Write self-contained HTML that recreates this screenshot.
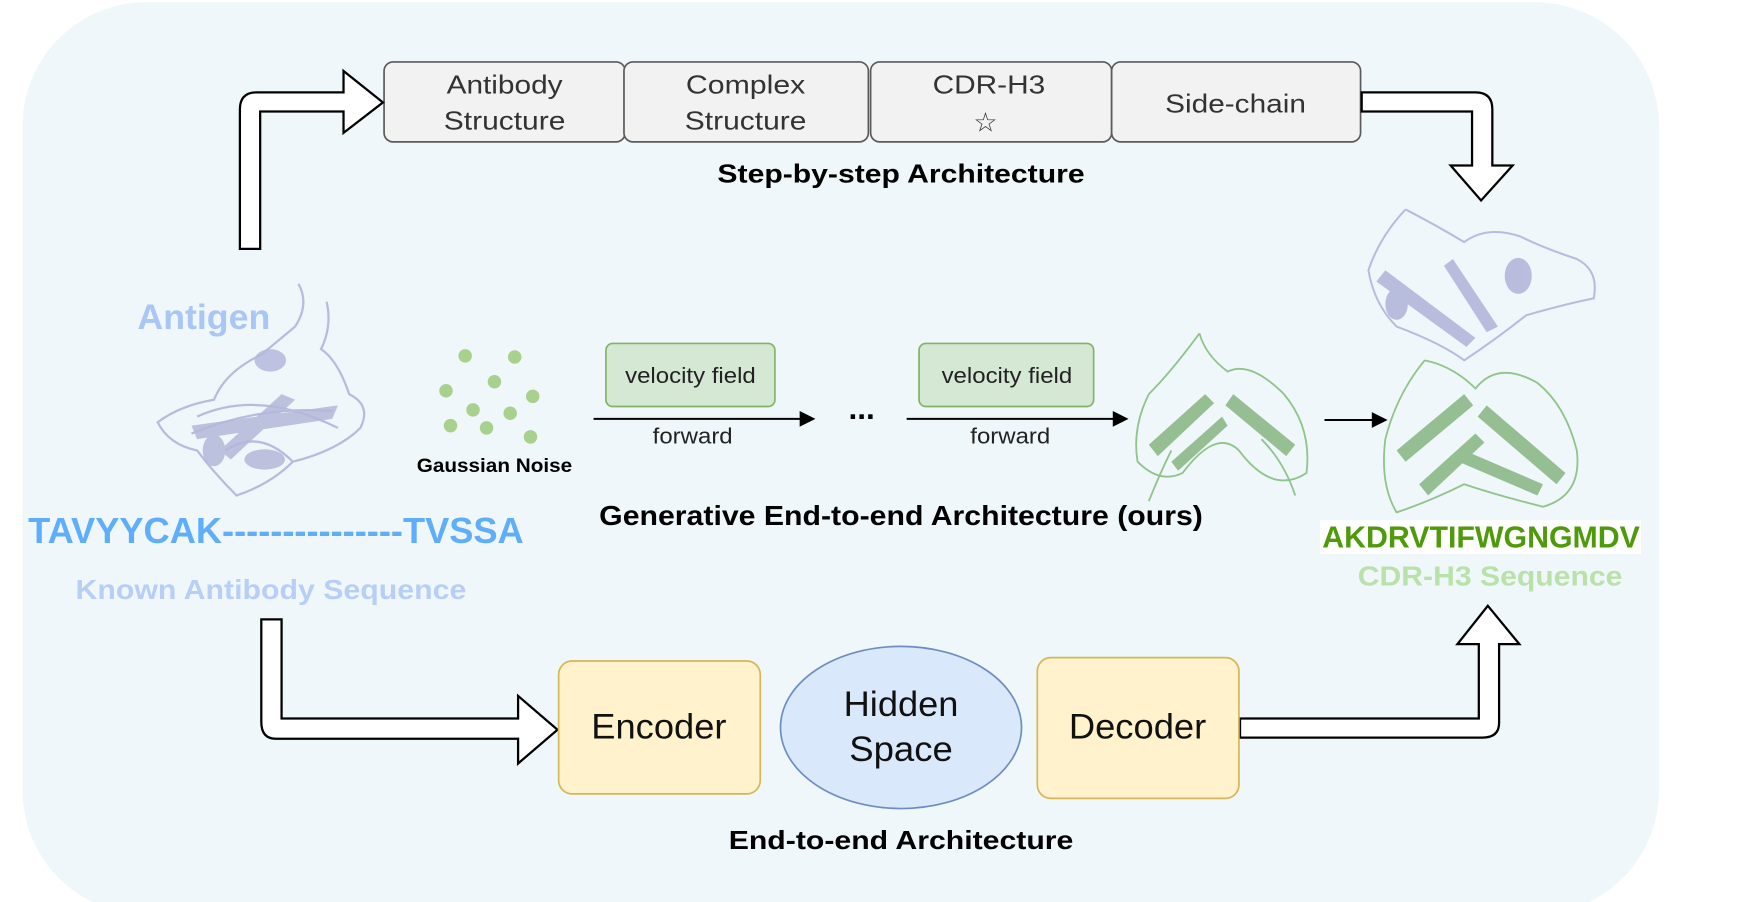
<!DOCTYPE html>
<html><head><meta charset="utf-8"><style>
html,body{margin:0;padding:0;background:#fff;}
svg{display:block;font-family:"Liberation Sans",Arial,sans-serif;}
</style></head><body>
<svg width="1748" height="902" viewBox="0 0 1552 801" preserveAspectRatio="none" xmlns="http://www.w3.org/2000/svg">
<rect x="20" y="2" width="1453" height="810" rx="110" fill="#eff7fa"/>
<g fill="#f2f2f2" stroke="#5a5a5a" stroke-width="1.5">
<rect x="341" y="55" width="214" height="71" rx="8"/>
<rect x="554" y="55" width="217" height="71" rx="8"/>
<rect x="773" y="55" width="214" height="71" rx="8"/>
<rect x="987" y="55" width="221" height="71" rx="8"/>
</g>
<g font-size="23" fill="#333" text-anchor="middle" lengthAdjust="spacingAndGlyphs">
<text x="448" y="83" textLength="103" lengthAdjust="spacingAndGlyphs">Antibody</text><text x="448" y="115" textLength="108" lengthAdjust="spacingAndGlyphs">Structure</text>
<text x="662" y="83" textLength="106" lengthAdjust="spacingAndGlyphs">Complex</text><text x="662" y="115" textLength="108" lengthAdjust="spacingAndGlyphs">Structure</text>
<text x="878" y="83" textLength="100" lengthAdjust="spacingAndGlyphs">CDR-H3</text><text x="875" y="117" font-size="24">☆</text>
<text x="1097" y="100" textLength="125" lengthAdjust="spacingAndGlyphs">Side-chain</text>
</g>
<text x="800" y="162" font-size="23" font-weight="bold" text-anchor="middle" textLength="326" lengthAdjust="spacingAndGlyphs">Step-by-step Architecture</text>
<g fill="#fff" stroke="#000" stroke-width="2" stroke-linejoin="miter">
<path d="M213,221 L213,97 Q213,82 228,82 L305,82 L305,63 L340,91 L305,118 L305,99 L231,99 L231,221 Z"/>
<path d="M1209,82 L1310,82 Q1325,82 1325,97 L1325,147 L1343,147 L1315,178 L1288,147 L1307,147 L1307,99 L1209,99 Z"/>
<path d="M232,550 L250,550 L250,638 L460,638 L460,618 L495,648 L460,678 L460,656 L245,656 Q232,656 232,641 Z"/>
<path d="M1101,638 L1313,638 L1313,572 L1294,572 L1321,538 L1349,572 L1331,572 L1331,642 Q1331,655 1316,655 L1101,655 Z"/>
</g>
<rect x="496" y="587" width="179" height="118" rx="12" fill="#fff2cc" stroke="#d6b656" stroke-width="1.5"/>
<rect x="921" y="584" width="179" height="125" rx="12" fill="#fff2cc" stroke="#d6b656" stroke-width="1.5"/>
<ellipse cx="800" cy="646" rx="107" ry="72" fill="#dae8fc" stroke="#6c8ebf" stroke-width="1.5"/>
<g font-size="31" text-anchor="middle" fill="#111">
<text x="585" y="656" textLength="120" lengthAdjust="spacingAndGlyphs">Encoder</text>
<text x="1010" y="656" textLength="122" lengthAdjust="spacingAndGlyphs">Decoder</text>
<text x="800" y="636" textLength="102" lengthAdjust="spacingAndGlyphs">Hidden</text><text x="800" y="676" textLength="92" lengthAdjust="spacingAndGlyphs">Space</text>
</g>
<text x="800" y="754" font-size="23" font-weight="bold" text-anchor="middle" textLength="306" lengthAdjust="spacingAndGlyphs">End-to-end Architecture</text>
<rect x="538" y="305" width="150" height="56" rx="6" fill="#d5e8d4" stroke="#82b366" stroke-width="1.5"/>
<rect x="816" y="305" width="155" height="56" rx="6" fill="#d5e8d4" stroke="#82b366" stroke-width="1.5"/>
<g font-size="20" fill="#222" text-anchor="middle">
<text x="613" y="340" textLength="116" lengthAdjust="spacingAndGlyphs">velocity field</text><text x="894" y="340" textLength="116" lengthAdjust="spacingAndGlyphs">velocity field</text>
<text x="615" y="394" textLength="71" lengthAdjust="spacingAndGlyphs">forward</text><text x="897" y="394" textLength="71" lengthAdjust="spacingAndGlyphs">forward</text>
</g>
<text x="765" y="372" font-size="28" font-weight="bold" text-anchor="middle">...</text>
<g stroke="#000" stroke-width="1.8" fill="#000">
<line x1="527" y1="372" x2="712" y2="372"/><path d="M724,372 L710,365 L710,379 Z" stroke="none"/>
<line x1="805" y1="372" x2="990" y2="372"/><path d="M1002,372 L988,365 L988,379 Z" stroke="none"/>
<line x1="1176" y1="373" x2="1220" y2="373"/><path d="M1232,373 L1218,366 L1218,380 Z" stroke="none"/>
</g>
<g fill="#a9d18e">
<circle cx="413" cy="316" r="6"/><circle cx="457" cy="317" r="6"/><circle cx="439" cy="339" r="6"/>
<circle cx="396" cy="347" r="6"/><circle cx="473" cy="352" r="6"/><circle cx="420" cy="364" r="6"/>
<circle cx="453" cy="367" r="6"/><circle cx="400" cy="378" r="6"/><circle cx="432" cy="380" r="6"/>
<circle cx="471" cy="388" r="6"/>
</g>
<text x="439" y="419" font-size="17" font-weight="bold" text-anchor="middle" textLength="138" lengthAdjust="spacingAndGlyphs">Gaussian Noise</text>
<text x="800" y="466" font-size="25" font-weight="bold" text-anchor="middle" textLength="536" lengthAdjust="spacingAndGlyphs">Generative End-to-end Architecture (ours)</text>
<g fill="none" stroke="#b8bcdc" stroke-width="2">
<path d="M265,252 Q275,270 262,290 Q250,300 232,315 Q200,330 190,355 Q160,360 140,375 Q150,395 175,400 Q190,420 210,440 Q240,430 260,410 Q300,400 320,380 Q330,360 310,350 Q300,320 285,310 Q295,290 290,268"/>
<path d="M175,370 Q230,345 300,380 M170,385 Q230,360 295,365 M200,400 Q230,380 260,410"/>
</g>
<g fill="#b4b8da" opacity="0.85">
<path d="M170,378 L300,360 L295,372 L175,390 Z"/><path d="M195,400 L250,350 L262,355 L205,408 Z"/>
<ellipse cx="240" cy="320" rx="14" ry="10"/><ellipse cx="235" cy="408" rx="18" ry="9"/><ellipse cx="190" cy="400" rx="10" ry="14"/>
</g>
<text x="122" y="292" font-size="31" font-weight="bold" fill="#a9c6f6" textLength="118" lengthAdjust="spacingAndGlyphs">Antigen</text>
<text x="25" y="482" font-size="32" font-weight="bold" fill="#5eaefb" textLength="440" lengthAdjust="spacingAndGlyphs">TAVYYCAK---------------TVSSA</text>
<text x="67" y="532" font-size="25" font-weight="bold" fill="#b7cff7" textLength="347" lengthAdjust="spacingAndGlyphs">Known Antibody Sequence</text>
<g fill="none" stroke="#8fc48a" stroke-width="1.6">
<path d="M1065,296 Q1040,330 1020,350 Q1005,380 1010,410 Q1030,430 1050,420 Q1080,380 1100,400 Q1130,440 1160,420 Q1165,380 1140,350 Q1110,320 1090,330 Q1070,315 1065,296"/>
<path d="M1020,445 Q1030,420 1040,400 M1150,440 Q1140,410 1120,390"/>
</g>
<g fill="#7fb27a" opacity="0.8">
<path d="M1020,395 L1070,350 L1078,358 L1028,405 Z"/><path d="M1095,350 L1150,395 L1142,405 L1088,360 Z"/>
<path d="M1040,410 L1085,370 L1090,378 L1046,418 Z"/>
</g>
<g fill="none" stroke="#b8bcdc" stroke-width="1.8">
<path d="M1248,186 Q1225,210 1215,240 Q1220,270 1240,290 Q1280,305 1300,320 Q1330,300 1355,280 Q1390,270 1415,265 Q1420,240 1400,230 Q1370,220 1350,210 Q1320,200 1300,215 Q1275,200 1248,186"/>
</g>
<g fill="#b0b4d8" opacity="0.85">
<path d="M1230,240 L1310,300 L1302,308 L1222,250 Z"/><ellipse cx="1348" cy="245" rx="12" ry="16"/><ellipse cx="1240" cy="270" rx="10" ry="14"/>
<path d="M1290,230 L1330,290 L1320,295 L1282,236 Z"/>
</g>
<g fill="none" stroke="#8fc48a" stroke-width="1.6">
<path d="M1265,320 Q1240,350 1230,390 Q1225,430 1240,455 Q1270,445 1300,430 Q1330,440 1370,450 Q1405,440 1400,400 Q1390,360 1365,340 Q1330,320 1310,345 Q1290,325 1265,320"/>
</g>
<g fill="#7fb27a" opacity="0.8">
<path d="M1240,400 L1300,350 L1308,360 L1248,410 Z"/><path d="M1320,360 L1390,420 L1382,430 L1312,370 Z"/>
<path d="M1260,430 L1310,385 L1318,393 L1268,440 Z"/><path d="M1300,400 L1370,430 L1365,440 L1295,410 Z"/>
</g>
<rect x="1172" y="462" width="285" height="30" fill="#fff"/>
<text x="1174" y="486" font-size="27" font-weight="bold" fill="#4f9a0a" textLength="282" lengthAdjust="spacingAndGlyphs">AKDRVTIFWGNGMDV</text>
<text x="1323" y="520" font-size="25" font-weight="bold" fill="#b9e2ab" text-anchor="middle" textLength="235" lengthAdjust="spacingAndGlyphs">CDR-H3 Sequence</text>
</svg>
</body></html>
